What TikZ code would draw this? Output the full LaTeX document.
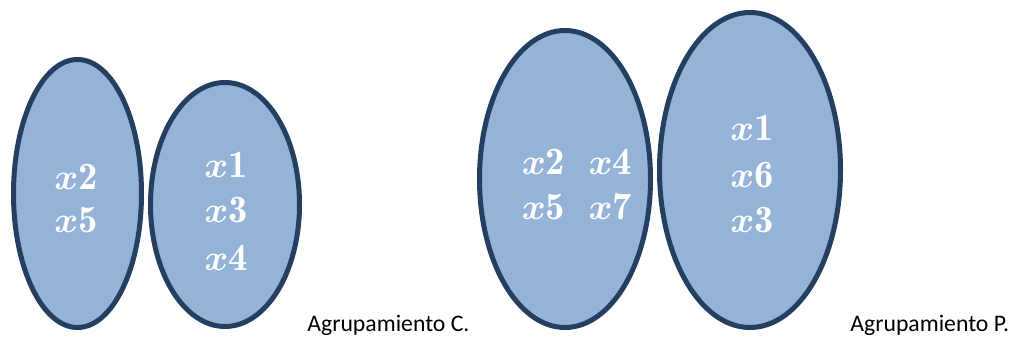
\documentclass[tikz,border=0pt]{standalone}
\usepackage{amsmath}
\usepackage{amssymb}
\usepackage{fontspec}
\newfontfamily\calfont{Carlito}
\usepackage{tikz}
\usetikzlibrary{shapes.geometric}
\definecolor{grupofill}{HTML}{95B3D7}
\definecolor{grupoline}{HTML}{243F60}

\begin{document}
\begin{tikzpicture}[scale=1,
        grupo/.style={ellipse, draw=grupoline, fill=grupofill, line width=0.1cm, inner sep=0pt},
        elem/.style={text=white, font=\fontsize{22}{26}\selectfont, inner sep=0pt},
        rotulo/.style={anchor=west, font=\calfont\fontsize{13.5}{16}\selectfont, inner sep=0pt}]
        \useasboundingbox (0,0) rectangle (20.26,-6.76);
        \node[grupo, minimum width=2.56cm, minimum height=5.36cm] (c1) at (1.55,-3.87) {};
        \node[grupo, minimum width=2.98cm, minimum height=4.88cm] (c2) at (4.5,-4.09) {};
        \node[grupo, minimum width=3.42cm, minimum height=5.94cm] (p1) at (11.3,-3.58) {};
        \node[grupo, minimum width=3.62cm, minimum height=6.30cm] (p2) at (15.0,-3.40) {};
        \node[elem] (c1a) at (1.52,-3.54) {$\boldsymbol{x}\mathbf{2}$};
        \node[elem] (c1b) at (1.52,-4.40) {$\boldsymbol{x}\mathbf{5}$};
        \node[elem] (c2a) at (4.52,-3.30) {$\boldsymbol{x}\mathbf{1}$};
        \node[elem] (c2b) at (4.52,-4.20) {$\boldsymbol{x}\mathbf{3}$};
        \node[elem] (c2c) at (4.52,-5.16) {$\boldsymbol{x}\mathbf{4}$};
        \node[elem] (p1a) at (11.54,-3.24) {$\boldsymbol{x}\mathbf{2}\ \ \boldsymbol{x}\mathbf{4}$};
        \node[elem] (p1b) at (11.54,-4.14) {$\boldsymbol{x}\mathbf{5}\ \ \boldsymbol{x}\mathbf{7}$};
        \node[elem] (p2a) at (15.04,-2.56) {$\boldsymbol{x}\mathbf{1}$};
        \node[elem] (p2b) at (15.04,-3.50) {$\boldsymbol{x}\mathbf{6}$};
        \node[elem] (p2c) at (15.04,-4.40) {$\boldsymbol{x}\mathbf{3}$};
        \node[rotulo] (rc) at (6.14,-6.5) {Agrupamiento C.};
        \node[rotulo] (rp) at (17.0,-6.5) {Agrupamiento P.};
    \end{tikzpicture}
\end{document}
